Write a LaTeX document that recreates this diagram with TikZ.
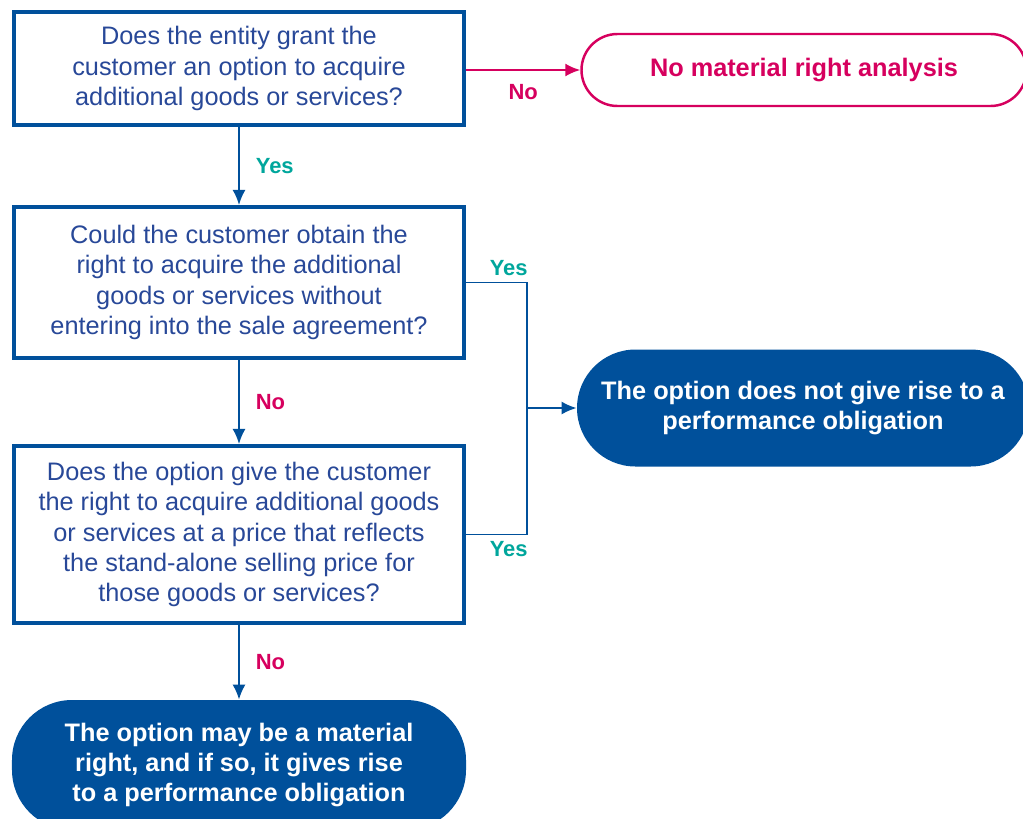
\documentclass[tikz,border=0pt]{standalone}
\usepackage{fontspec}
\setmainfont{Liberation Sans}
\usetikzlibrary{arrows.meta}

\definecolor{kblue}{RGB}{0,80,155}
\definecolor{ktext}{RGB}{40,72,152}
\definecolor{kteal}{RGB}{0,166,156}
\definecolor{kpink}{RGB}{214,0,94}

\begin{document}
\begin{tikzpicture}[
    question/.style={rectangle, draw=kblue, line width=2.3pt, text=ktext, minimum width=9.0cm,
        align=center, font=\fontsize{14.4}{17.2}\selectfont},
    outcome/.style={rectangle, fill=kblue, text=white, minimum width=9.04cm, align=center,
        font=\fontsize{14.4}{17.2}\selectfont\bfseries},
    stop/.style={rectangle, draw=kpink, line width=1.4pt, text=kpink, rounded corners=0.72cm,
        minimum width=8.9cm, minimum height=1.44cm, font=\fontsize{14.4}{17.2}\selectfont\bfseries},
    line/.style={draw=kblue, line width=1.1pt},
    arrow/.style={line, -{Latex[length=0.3cm, width=0.26cm]}},
    yes/.style={text=kteal, font=\fontsize{12.5}{14}\selectfont\bfseries},
    no/.style={text=kpink, font=\fontsize{12.5}{14}\selectfont\bfseries}
]
    \useasboundingbox (0,0) rectangle (20.46,-16.36);

    % questions down the left
    \node[question, minimum height=2.26cm] (grant) at (4.78,-1.37)
        {Does the entity grant the\\customer an option to acquire\\additional goods or services?};
    \node[question, minimum height=3.02cm] (obtain) at (4.78,-5.65)
        {Could the customer obtain the\\right to acquire the additional\\goods or services without\\entering into the sale agreement?};
    \node[question, minimum height=3.54cm] (price) at (4.78,-10.69)
        {Does the option give the customer\\the right to acquire additional goods\\or services at a price that reflects\\the stand-alone selling price for\\those goods or services?};

    % end points
    \node[stop] (nomr) at (16.08,-1.40) {No material right analysis};
    \node[outcome, minimum height=2.34cm, rounded corners=1.17cm] (noperf) at (16.06,-8.16)
        {The option does not give rise to a\\performance obligation};
    \node[outcome, minimum width=9.08cm, minimum height=2.6cm, rounded corners=1.2cm] (mright) at (4.78,-15.3)
        {The option may be a material\\right, and if so, it gives rise\\to a performance obligation};

    \coordinate (join) at (10.54,-8.16);

    \draw[arrow] (grant) -- node[yes, right, xshift=0.2cm] {Yes} (obtain);
    \draw[arrow, draw=kpink] (grant.east |- nomr) -- node[no, below, yshift=-0.15cm] {No} (nomr);
    \draw[arrow] (obtain) -- node[no, right, xshift=0.2cm] {No} (price);
    \draw[arrow] (price) -- node[no, right, xshift=0.2cm] {No} (mright);

    \draw[line] (obtain.east) -| node[yes, above, pos=0.35] {Yes} (join);
    \draw[line] (price.east) -| node[yes, below, pos=0.35] {Yes} (join);
    \draw[arrow] (join) -- (noperf);
\end{tikzpicture}
\end{document}
